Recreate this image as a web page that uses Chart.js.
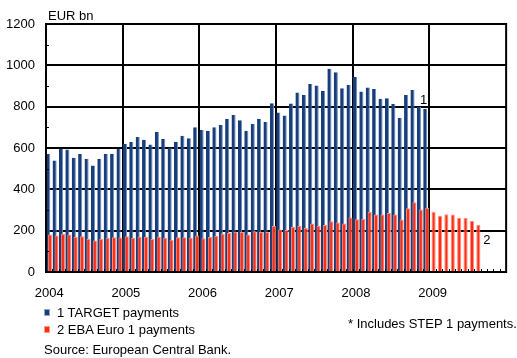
<!DOCTYPE html>
<html>
<head>
<meta charset="utf-8">
<script src="https://cdn.jsdelivr.net/npm/chart.js@4.4.0/dist/chart.umd.min.js"></script>
<style>
  body { margin: 0; background: #fff; }
  #wrap { position: relative; width: 517px; height: 358px; font-family: "Liberation Sans", Arial, sans-serif; font-size: 13px; color: #000; }
  #wrap canvas { position: absolute; left: 0; top: 0; }
  .txt { position: absolute; white-space: nowrap; line-height: 15px; }
  .key { position: absolute; width: 4px; height: 5px; border: 1px solid; }
</style>
</head>
<body>
<div id="wrap">
  <canvas id="payments" width="517" height="358"></canvas>
  <div class="txt" style="left:48px;top:8px">EUR bn</div>
  <div class="key" style="left:44px;top:309px;background:#163d78;border-color:#8fa6cc"></div>
  <div class="txt" style="left:57px;top:305px">1 TARGET payments</div>
  <div class="key" style="left:44px;top:326px;background:#ff2d18;border-color:#ff9b85"></div>
  <div class="txt" style="left:57px;top:322px">2 EBA Euro 1 payments</div>
  <div class="txt" style="left:348px;top:316px">* Includes STEP 1 payments.</div>
  <div class="txt" style="left:44px;top:342px">Source: European Central Bank.</div>
</div>
<script>
  const years = ['2004', '2005', '2006', '2007', '2008', '2009'];
  const yTicks = [0, 200, 400, 600, 800, 1000, 1200];

  // monthly values, EUR bn, Jan 2004 onwards
  const targetPayments = [
    571, 540, 595, 593, 553, 571, 548, 515, 548, 572, 572, 595,
    620, 629, 653, 640, 617, 677, 643, 602, 630, 659, 647, 701,
    687, 684, 700, 711, 740, 760, 734, 684, 716, 740, 726, 816,
    772, 757, 815, 869, 857, 910, 903, 876, 983, 966, 889, 905,
    943, 873, 893, 886, 838, 841, 813, 745, 856, 881, 798, 790
  ];
  const ebaPayments = [
    182, 177, 185, 182, 169, 173, 160, 152, 160, 166, 168, 167,
    173, 165, 171, 171, 160, 171, 166, 156, 168, 168, 166, 177,
    163, 169, 174, 185, 189, 195, 194, 182, 197, 194, 194, 222,
    206, 203, 218, 223, 213, 235, 224, 227, 245, 240, 235, 264,
    255, 256, 290, 278, 278, 286, 278, 254, 309, 338, 303, 311,
    290, 272, 280, 278, 261, 261, 247, 228
  ];

  const monthLabels = years.flatMap(y => Array.from({length: 12}, (_, m) => y + '-' + (m + 1)));
  const font = { family: '"Liberation Sans", Arial, sans-serif', size: 13 };

  const chartDecor = {
    id: 'chartDecor',
    beforeDatasetsDraw(chart) {
      // TARGET first, so the EBA bars sit on top of them like in the original
      chart.getSortedVisibleDatasetMetas().forEach(meta => meta.controller.draw());
      return false;
    },
    afterDraw(chart) {
      const {ctx, chartArea: a, scales: {x, y}} = chart;
      ctx.save();
      ctx.strokeStyle = '#000';
      // little inward ticks: each month at the bottom, each odd 100 on the left
      ctx.lineWidth = 1;
      const step = a.width / x.ticks.length;
      ctx.beginPath();
      for (let i = 1; i < x.ticks.length; i++) {
        const px = Math.round(a.left + i * step) + 0.5;
        ctx.moveTo(px, a.bottom);
        ctx.lineTo(px, a.bottom - 3);
      }
      for (let v = 100; v < 1200; v += 200) {
        const py = Math.round(y.getPixelForValue(v)) + 0.5;
        ctx.moveTo(a.left, py);
        ctx.lineTo(a.left + 3, py);
      }
      ctx.stroke();
      ctx.lineWidth = 2;
      ctx.strokeRect(a.left, a.top, a.width, a.height);

      // series numbers at the end of each run of bars
      ctx.font = '13px "Liberation Sans", Arial, sans-serif';
      ctx.fillStyle = '#000';
      const last = i => { const d = chart.getDatasetMeta(i).data; return d[d.length - 1]; };
      const b = last(0), r = last(1);
      ctx.textAlign = 'center';
      ctx.fillText('1', b.x - 1.6, b.y - 4.7);
      ctx.textAlign = 'left';
      ctx.fillText('2', r.x + 5, r.y + 19);
      ctx.restore();
    }
  };

  const ctx = document.getElementById('payments').getContext('2d');
  new Chart(ctx, {
    type: 'bar',
    data: {
      labels: monthLabels,
      datasets: [
        {
          label: '1 TARGET payments',
          data: targetPayments,
          backgroundColor: '#173e7b',
          borderColor: '#6f8ec2',
          borderWidth: { top: 0, right: 1, left: 0, bottom: 0 },
          categoryPercentage: 0.6,
          barPercentage: 2.15
        },
        {
          label: '2 EBA Euro 1 payments',
          data: ebaPayments,
          backgroundColor: '#ff2d18',
          borderColor: '#ff8f78',
          borderWidth: 1,
          categoryPercentage: 0.6,
          barPercentage: 2.15
        }
      ]
    },
    options: {
      responsive: false,
      animation: false,
      devicePixelRatio: 1,
      layout: { padding: { top: 24, right: 10, left: 0, bottom: 0 } },
      plugins: { legend: { display: false }, tooltip: { enabled: false } },
      scales: {
        x: {
          offset: true,
          grid: {
            offset: true,
            drawTicks: false,
            color: c => (c.type === 'tick' && c.index % 12 === 0) ? '#000' : 'rgba(0,0,0,0)',
            lineWidth: 2
          },
          border: { display: false },
          ticks: {
            autoSkip: false,
            maxRotation: 0,
            padding: 14,
            color: '#000',
            font: font,
            callback: (v, i) => i % 12 === 0 ? years[i / 12] : ''
          },
          afterFit: s => { s.height = 86; }
        },
        y: {
          min: 0,
          max: 1200,
          afterBuildTicks: s => { s.ticks = yTicks.map(v => ({ value: v })); },
          grid: { color: '#000', lineWidth: 2, drawTicks: false },
          border: { display: false },
          ticks: { padding: 11, color: '#000', font: font, callback: v => String(v) },
          afterFit: s => { s.width = 46; }
        }
      }
    },
    plugins: [chartDecor]
  });
</script>
</body>
</html>
